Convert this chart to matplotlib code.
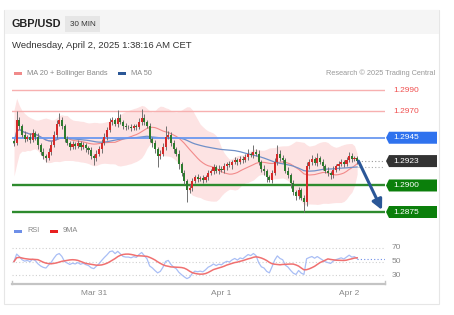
import numpy as np
import pandas as pd
import matplotlib
matplotlib.use("Agg")
import matplotlib.pyplot as plt
from matplotlib.patches import Polygon, Rectangle
import matplotlib.transforms as mtransforms

plt.rcParams['font.family'] = ['Liberation Sans', 'DejaVu Sans']

# 30 min candles, closes in pips above 1.2900
first_open = 42
closes = [40, 62, 56, 48, 44, 46, 43, 49, 46, 38,
          32, 28, 26, 32, 38, 48, 58, 62, 56, 44,
          40, 36, 39, 37, 40, 36, 38, 35, 33, 28,
          26, 30, 34, 40, 46, 52, 60, 62, 58, 64,
          60, 56, 55, 55, 54, 56, 55, 60, 64, 60,
          56, 44, 40, 34, 28, 30, 36, 46, 48, 40,
          34, 30, 20, 12, 4, -4, -2, 4, 8, 6,
          7, 5, 8, 12, 14, 17, 14, 16, 15, 18,
          20, 19, 22, 24, 22, 25, 24, 27, 30, 29,
          32, 30, 22, 16, 14, 8, 5, 12, 22, 30,
          26, 24, 14, 10, 2, -6, -10, -4, -12, -16,
          18, 22, 25, 21, 26, 22, 18, 14, 12, 10,
          15, 18, 20, 22, 20, 24, 28, 25, 26, 23]
upper_wick = [2, 8, 3, 2, 3, 2, 3, 4, 2, 3, 2, 3, 2, 3, 4, 3, 4, 6, 3, 2,
              3, 2, 3, 2, 3, 2, 3, 2, 2, 3, 2, 3, 3, 4, 3, 3, 4, 3, 2, 7,
              3, 2, 3, 2, 3, 2, 2, 4, 8, 3, 2, 3, 2, 3, 2, 3, 4, 10, 3, 2,
              3, 2, 3, 2, 3, 2, 3, 3, 2, 3, 2, 3, 2, 3, 2, 3, 2, 3, 2, 3,
              2, 3, 2, 3, 2, 3, 3, 3, 4, 2, 6, 2, 3, 2, 3, 2, 2, 3, 4, 8,
              3, 3, 2, 3, 2, 3, 2, 3, 2, 3, 4, 3, 4, 2, 5, 2, 3, 2, 3, 2,
              3, 2, 3, 3, 2, 3, 4, 3, 2, 2]
lower_wick = [3, 2, 3, 2, 3, 2, 3, 2, 3, 4, 3, 3, 4, 2, 3, 2, 3, 2, 3, 3,
              2, 3, 2, 3, 2, 3, 2, 3, 3, 3, 7, 3, 2, 3, 2, 3, 2, 3, 2, 3,
              2, 3, 3, 2, 3, 2, 3, 2, 3, 3, 2, 3, 4, 3, 11, 3, 2, 3, 2, 3,
              3, 2, 4, 3, 3, 12, 3, 3, 2, 3, 2, 3, 2, 3, 2, 3, 2, 3, 2, 3,
              3, 2, 3, 2, 3, 2, 3, 2, 3, 2, 3, 2, 3, 3, 4, 5, 2, 3, 2, 3,
              3, 3, 2, 3, 4, 3, 4, 3, 2, 9, 3, 2, 3, 2, 3, 2, 3, 2, 3, 4,
              3, 2, 3, 2, 3, 2, 2, 3, 2, 3]

red_levels = [1.2990, 1.2970]
resistance = 1.2945
supports = [1.2900, 1.2875]
target = 1.2875
day_idx = [30, 78, 126]
day_labels = ["Mar 31", "Apr 1", "Apr 2"]
rsi_ticks = [70, 50, 30]
rsi_seed = 3.0  # starting avg gain / loss in pips

pip = 0.0001
c = 1.29 + np.array(closes) * pip
o = np.concatenate([[1.29 + first_open * pip], c[:-1]])
hi = np.maximum(o, c) + np.array(upper_wick) * pip
lo = np.minimum(o, c) - np.array(lower_wick) * pip
idx = np.arange(len(c))

s = pd.Series(c)
ma20 = s.rolling(20, min_periods=1).mean()
sd20 = s.rolling(20, min_periods=2).std().bfill()
ma50 = s.rolling(50, min_periods=1).mean()

# Wilder RSI
ag, al = rsi_seed * pip, rsi_seed * pip
rsi = [50.0]
for d in np.diff(c):
    ag = (ag * 13 + max(d, 0)) / 14
    al = (al * 13 + max(-d, 0)) / 14
    rsi.append(100 - 100 / (1 + ag / al))
rsi = pd.Series(rsi)
rsi_ma = rsi.rolling(9, min_periods=1).mean()

W, H = 454, 315
fig = plt.figure(figsize=(W / 100, H / 100), dpi=100)


def fx(px):
    return px / W


def fy(py):
    return 1 - py / H


def frect(xa, ya, xb, yb, **kw):
    fig.patches.append(Rectangle((fx(xa), fy(yb)), fx(xb) - fx(xa), fy(ya) - fy(yb),
                                 transform=fig.transFigure, zorder=-10, **kw))


# card + header
frect(4, 10, 439, 304, fc='white', ec='#e6e6e6', lw=0.8)
frect(4.5, 10.5, 438.5, 34, fc='#f5f5f5', ec='none')
frect(65, 16, 100, 32, fc='#e6e6e6', ec='none')
fig.text(fx(12), fy(24), "GBP/USD", weight='bold', size=7.8, va='center', color='#222222')
fig.text(fx(82.5), fy(24), "30 MIN", size=5.8, va='center', ha='center', color='#333333')
fig.text(fx(12), fy(46), "Wednesday, April 2, 2025 1:38:16 AM CET", size=6.8, va='center', color='#333333')

# legends
frect(14, 72, 22, 74.5, fc='#f08a8a', ec='none')
fig.text(fx(27), fy(73), "MA 20 + Bollinger Bands", size=5.3, va='center', color='#888888')
frect(118, 72, 126, 74.5, fc='#2b5797', ec='none')
fig.text(fx(131), fy(73), "MA 50", size=5.3, va='center', color='#888888')
fig.text(fx(435), fy(73), "Research \u00a9 2025 Trading Central", size=5.3, va='center',
         ha='right', color='#999999')

frect(14, 230, 22, 232.5, fc='#6e8fe8', ec='none')
fig.text(fx(27), fy(231), "RSI", size=5.3, va='center', color='#888888')
frect(50, 230, 58, 232.5, fc='#e82020', ec='none')
fig.text(fx(63), fy(231), "9MA", size=5.3, va='center', color='#888888')

# price panel
x0, x1 = 12, 385
xlim = ((x0 - 14) / 2.66, (x1 - 14) / 2.66)
ax = fig.add_axes([fx(x0), fy(218), fx(x1) - fx(x0), fy(82) - fy(218)])
ppx = 122 / 0.0115
ax.set_ylim(1.2875 - 6 / ppx, 1.2990 + 8 / ppx)
ax.set_xlim(*xlim)
ax.axis('off')

ax.fill_between(idx, ma20 + 2 * sd20, ma20 - 2 * sd20, color='#fddcdc', alpha=0.8, lw=0)
ax.plot(idx, ma20, color='#f28a8a', lw=0.8)
ax.plot(idx, ma50, color='#7090c8', lw=0.9)

for lv in red_levels:
    ax.axhline(lv, color='#f7b0b0', lw=1.0)
ax.axhline(resistance, color='#6a98f0', lw=1.3)
for lv in supports:
    ax.axhline(lv, color='#2e8b2e', lw=1.7)

up = c >= o
colors = np.where(up, '#d42a2a', '#2d7a2d')
ax.vlines(idx, lo, hi, color='#707070', lw=0.7, zorder=3)
ax.bar(idx, np.maximum(np.abs(c - o), 0.3 * pip), bottom=np.minimum(o, c), width=0.78,
       color=colors, lw=0, zorder=4)

ax.plot([idx[-1] + 0.5, xlim[1]], [c[-1], c[-1]], color='#999999', lw=0.8, ls=(0, (1, 2)))
ax.plot([idx[-1] + 0.5, xlim[1]], [ma50.iloc[-1]] * 2, color='#aaaaaa', lw=0.8, ls=(0, (1, 2)))

ax.annotate("", xy=((382 - 14) / 2.66, target + 2 / ppx), xytext=(idx[-1] + 0.5, c[-1]),
            arrowprops=dict(arrowstyle="-|>,head_width=0.3,head_length=0.6", lw=2.2,
                            color='#2b5797', shrinkA=0, shrinkB=0), zorder=6)

trans = mtransforms.blended_transform_factory(ax.transAxes, ax.transData)


def fa(px):
    return (px - x0) / (x1 - x0)


def tag(level, fc, text=None):
    h = 6 / ppx
    pts = [(fa(386), level), (fa(389), level + h), (fa(437), level + h),
           (fa(437), level - h), (fa(389), level - h)]
    ax.add_patch(Polygon(pts, closed=True, transform=trans, fc=fc, ec='none', clip_on=False))
    ax.text(fa(393), level, text or f"{level:.4f}", transform=trans, color='white',
            size=6, va='center', ha='left', clip_on=False)


for lv in red_levels:
    ax.text(fa(393), lv, f"{lv:.4f}", transform=trans, color='#f05050', size=6,
            va='center', ha='left', clip_on=False)
tag(resistance, '#2f72ee')
tag(c[-1], '#333333')
for lv in supports:
    tag(lv, '#0b7f0b')

# RSI panel
ax2 = fig.add_axes([fx(x0), fy(284), fx(x1) - fx(x0), fy(238) - fy(284)])
ax2.patch.set_alpha(0)
ax2.set_xlim(*xlim)
ax2.set_ylim(16.7, 84.8)
for sp in ['top', 'left', 'right']:
    ax2.spines[sp].set_visible(False)
ax2.spines['bottom'].set_color('#c4c4c4')
ax2.spines['bottom'].set_linewidth(1.6)
ax2.set_yticks([])
ax2.set_xticks(day_idx)
ax2.set_xticklabels(day_labels, size=6, color='#888888')
ax2.tick_params(axis='x', length=0, pad=4)
t2 = mtransforms.blended_transform_factory(ax2.transAxes, ax2.transData)
for t in rsi_ticks:
    ax2.axhline(t, color='#d0d0d0', lw=0.8, ls=(0, (1, 2)))
    ax2.text(fa(392), t, str(t), transform=t2, size=6, color='#888888',
             va='center', ha='left', clip_on=False)
ax2.plot(idx, rsi, color='#a9bef5', lw=0.9)
ax2.plot(idx, rsi_ma, color='#f07070', lw=1.1)
ax2.plot([idx[-1], xlim[1]], [rsi.iloc[-1]] * 2, color='#6e8fe8', lw=0.8, ls=(0, (1, 2)))
for xe in xlim:
    ax2.plot([xe, xe], [16.7, 21.5], color='#c4c4c4', lw=1.0, clip_on=False)

fig.savefig("out.png", dpi=100)
